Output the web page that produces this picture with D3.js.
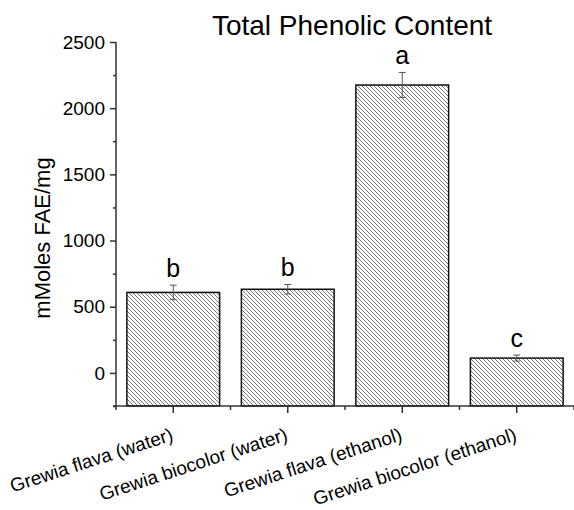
<!DOCTYPE html>
<html>
<head>
<meta charset="utf-8">
<script src="https://cdn.jsdelivr.net/npm/d3@7/dist/d3.min.js"></script>
<style>
  html, body { margin: 0; padding: 0; background: #fff; }
  svg { display: block; font-family: "Liberation Sans", Arial, sans-serif; }
</style>
</head>
<body>
<svg id="chart" width="574" height="510"></svg>
<script>
// Extracts and their mean total phenolic content with standard deviations
const categories = [
  "Grewia flava (water)",
  "Grewia biocolor (water)",
  "Grewia flava (ethanol)",
  "Grewia biocolor (ethanol)"
];
const values = [608, 632, 2175, 112];
const errors = [55, 36, 95, 23];
const groupLetters = ["b", "b", "a", "c"];
const yTicks = [0, 500, 1000, 1500, 2000, 2500];
const yMinorTicks = [-250, 250, 750, 1250, 1750, 2250];

const svg = d3.select("#chart");
const plotLeft = 116, plotRight = 574, plotTop = 42, plotBottom = 406;

const x = d3.scaleBand().domain(categories).range([plotLeft, plotRight]).paddingInner(0.19).paddingOuter(0.095);
const y = d3.scaleLinear().domain([-250, 2500]).range([plotBottom, plotTop]);

// Diagonal hatch fill
const defs = svg.append("defs");
const pat = defs.append("pattern")
  .attr("id", "hatch")
  .attr("patternUnits", "userSpaceOnUse")
  .attr("width", 4).attr("height", 4);
pat.append("rect").attr("width", 4).attr("height", 4).attr("fill", "#fff");
pat.append("path")
  .attr("d", "M0,0 L4,4 M-1,3 L1,5 M3,-1 L5,1")
  .attr("stroke", "#555").attr("stroke-width", 0.8);

// Bars
svg.append("g").selectAll("rect")
  .data(values)
  .join("rect")
  .attr("x", (d, i) => x(categories[i]))
  .attr("y", d => y(d))
  .attr("width", x.bandwidth())
  .attr("height", d => plotBottom - y(d))
  .attr("fill", "url(#hatch)")
  .attr("stroke", "#111")
  .attr("stroke-width", 1.5);

// Error bars
const eb = svg.append("g").attr("stroke", "#555").attr("stroke-width", 1);
values.forEach((v, i) => {
  const cx = x(categories[i]) + x.bandwidth() / 2;
  const y1 = y(v + errors[i]), y0 = y(v - errors[i]);
  eb.append("line").attr("x1", cx).attr("x2", cx).attr("y1", y1).attr("y2", y0);
  eb.append("line").attr("x1", cx - 3.5).attr("x2", cx + 3.5).attr("y1", y1).attr("y2", y1);
  eb.append("line").attr("x1", cx - 3.5).attr("x2", cx + 3.5).attr("y1", y0).attr("y2", y0);
});

// Significance letters
svg.append("g").selectAll("text")
  .data(groupLetters)
  .join("text")
  .attr("x", (d, i) => x(categories[i]) + x.bandwidth() / 2)
  .attr("y", (d, i) => y(values[i] + errors[i]) - 8)
  .attr("text-anchor", "middle")
  .attr("font-size", 25)
  .attr("fill", "#000")
  .text(d => d);

// Y axis
const yAxis = svg.append("g").attr("transform", `translate(${plotLeft},0)`)
  .call(d3.axisLeft(y).tickValues(yTicks).tickSize(6).tickPadding(5).tickFormat(d3.format("d")));
svg.append("g").attr("transform", `translate(${plotLeft},0)`)
  .call(d3.axisLeft(y).tickValues(yMinorTicks).tickSize(3).tickFormat(""))
  .call(g => g.select(".domain").remove());
yAxis.select(".domain").attr("d", `M0,${plotTop}V${plotBottom + 1}`);
yAxis.selectAll("text").attr("font-size", 19).attr("fill", "#000").attr("font-family", "Liberation Sans, Arial, sans-serif");

// X axis: major ticks at bar centres, minor ticks at group boundaries
const xAxis = svg.append("g").attr("transform", `translate(0,${plotBottom})`)
  .call(d3.axisBottom(x).tickSize(7).tickFormat(""));
xAxis.select(".domain").attr("d", `M${plotLeft - 3},0H${plotRight}`);
const step = x.step();
const bounds = d3.range(categories.length + 1).map(i => plotLeft + i * step);
svg.append("g").selectAll("line")
  .data(bounds)
  .join("line")
  .attr("x1", d => d).attr("x2", d => d)
  .attr("y1", plotBottom).attr("y2", plotBottom + 4)
  .attr("stroke", "#333").attr("stroke-width", 1.5);

svg.selectAll(".domain, .tick line").attr("stroke", "#333").attr("stroke-width", 1.5);

// Category labels, slanted
svg.append("g").selectAll("text")
  .data(categories)
  .join("text")
  .attr("transform", d => `translate(${x(d) + x.bandwidth() / 2 + 1},${plotBottom + 34}) rotate(-18)`)
  .attr("text-anchor", "end")
  .attr("font-size", 19)
  .attr("fill", "#000")
  .text(d => d);

// Axis title
svg.append("text")
  .attr("transform", `translate(50,238) rotate(-90)`)
  .attr("text-anchor", "middle")
  .attr("font-size", 22)
  .attr("fill", "#000")
  .text("mMoles FAE/mg");

// Chart title
svg.append("text")
  .attr("x", 352).attr("y", 35)
  .attr("text-anchor", "middle")
  .attr("font-size", 28)
  .attr("fill", "#000")
  .text("Total Phenolic Content");
</script>
</body>
</html>
